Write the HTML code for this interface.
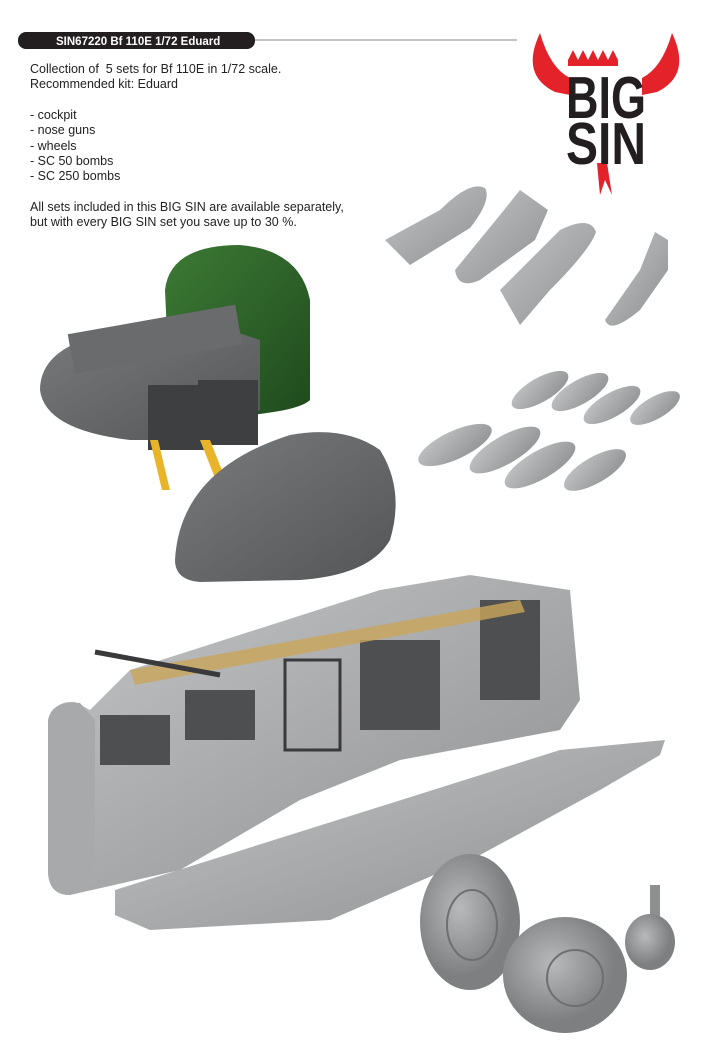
<!DOCTYPE html>
<html><head><meta charset="utf-8"><style>
body{margin:0;width:701px;height:1053px;background:#fff;position:relative;overflow:hidden;font-family:"Liberation Sans Narrow","Liberation Sans",sans-serif;}
.t{position:absolute;left:30px;font-size:12.5px;color:#222;line-height:15.3px;}
</style></head><body>
<svg width="701" height="1053" style="position:absolute;left:0;top:0">
<defs>
<linearGradient id="g1" x1="0" y1="0" x2="1" y2="1"><stop offset="0" stop-color="#c4c5c7"/><stop offset="1" stop-color="#8e8f91"/></linearGradient>
<linearGradient id="g2" x1="0" y1="0" x2="1" y2="1"><stop offset="0" stop-color="#7a7b7d"/><stop offset="1" stop-color="#545557"/></linearGradient>
<linearGradient id="gr" x1="0" y1="0" x2="1" y2="1"><stop offset="0" stop-color="#3d7a35"/><stop offset="1" stop-color="#1f4a1d"/></linearGradient>
<radialGradient id="wh" cx="0.4" cy="0.4"><stop offset="0" stop-color="#b8b9bb"/><stop offset="1" stop-color="#7e7f81"/></radialGradient>
</defs>
<rect x="18" y="32" width="237" height="17" rx="8" fill="#231f20"/>
<text x="56" y="45" font-family="Liberation Sans Narrow,Liberation Sans,sans-serif" font-size="11.5" font-weight="bold" fill="#fff">SIN67220  Bf 110E  1/72  Eduard</text>
<line x1="255" y1="40" x2="517" y2="40" stroke="#888" stroke-width="1"/>
<!-- logo -->
<path d="M540 33 Q520 75 555 92 L570 95 L570 78 Q550 68 540 33Z" fill="#e3222a"/>
<path d="M672 33 Q692 75 657 92 L642 95 L642 78 Q662 68 672 33Z" fill="#e3222a"/>
<path d="M568 60 L573 50 L578 60 L583 50 L588 60 L593 50 L598 60 L603 50 L608 60 L613 50 L618 60 L618 66 L568 66Z" fill="#e3222a"/>
<path d="M597 163 L607 163 L612 195 L605 180 L600 195Z" fill="#e3222a"/>
<g transform="translate(566,118) scale(1,1.15)"><text x="0" y="0" font-family="Liberation Sans Narrow,sans-serif" font-weight="bold" font-size="52" fill="#231f20" textLength="80" lengthAdjust="spacingAndGlyphs">BIG</text></g>
<g transform="translate(566,164) scale(1,1.15)"><text x="0" y="0" font-family="Liberation Sans Narrow,sans-serif" font-weight="bold" font-size="52" fill="#231f20" textLength="80" lengthAdjust="spacingAndGlyphs">SIN</text></g>
<!-- big bombs -->
<g fill="url(#g1)">
<path d="M385 240 L440 210 Q470 180 485 188 Q492 200 470 228 L410 265Z"/>
<path d="M455 270 L500 215 L520 190 L548 210 L535 240 L480 280 Q458 290 455 270Z"/>
<path d="M500 290 L560 230 Q590 215 596 232 Q590 250 550 290 L520 325Z"/>
<path d="M605 320 L640 270 L655 232 L668 240 L668 270 L640 310 Q610 335 605 320Z"/>
</g>
<!-- small bombs cluster -->
<g fill="url(#g1)">
<ellipse cx="540" cy="390" rx="32" ry="12" transform="rotate(-30 540 390)"/>
<ellipse cx="580" cy="392" rx="32" ry="12" transform="rotate(-30 580 392)"/>
<ellipse cx="612" cy="405" rx="32" ry="12" transform="rotate(-30 612 405)"/>
<ellipse cx="655" cy="408" rx="28" ry="11" transform="rotate(-30 655 408)"/>
<ellipse cx="455" cy="445" rx="40" ry="14" transform="rotate(-25 455 445)"/>
<ellipse cx="505" cy="450" rx="40" ry="14" transform="rotate(-30 505 450)"/>
<ellipse cx="540" cy="465" rx="40" ry="14" transform="rotate(-30 540 465)"/>
<ellipse cx="595" cy="470" rx="35" ry="13" transform="rotate(-30 595 470)"/>
</g>
<!-- nose gun section -->
<path d="M165 290 Q170 245 240 245 Q300 250 310 300 L310 400 Q300 410 250 415 L170 400Z" fill="url(#gr)"/>
<path d="M40 390 Q40 350 100 335 L200 320 L260 340 L260 410 L215 440 L130 440 Q45 430 40 390Z" fill="url(#g2)"/>
<rect x="70" y="320" width="170" height="40" fill="#6a6b6d" transform="rotate(-10 150 340)"/>
<rect x="148" y="385" width="58" height="65" fill="#3e3f41"/>
<rect x="198" y="380" width="60" height="65" fill="#3e3f41"/>
<path d="M150 440 L158 440 L170 490 L162 490Z M200 440 L210 440 L225 478 L215 478Z" fill="#e8b52a"/>
<!-- nose cone -->
<path d="M175 560 Q180 470 290 435 Q345 425 380 450 Q405 490 390 540 Q370 575 300 580 L200 582 Q175 580 175 560Z" fill="url(#g2)"/>
<!-- floor -->
<path d="M115 890 L560 750 L665 740 L660 755 L600 790 L480 855 L330 920 L150 930 L115 915Z" fill="url(#g1)"/>
<!-- cockpit -->
<path d="M48 720 Q55 700 75 702 L90 710 L130 670 L380 590 L470 575 L570 590 L580 700 L560 730 L400 760 L300 800 L180 870 L70 895 Q48 895 48 870Z" fill="url(#g1)"/>
<path d="M48 720 Q52 700 80 703 L95 720 L95 880 L70 895 Q48 895 48 870Z" fill="#a8a9ab"/>
<g fill="#4e4f51"><rect x="100" y="715" width="70" height="50"/><rect x="360" y="640" width="80" height="90"/><rect x="285" y="660" width="55" height="90" fill="none" stroke="#3a3a3c" stroke-width="3"/><rect x="480" y="600" width="60" height="100"/><rect x="185" y="690" width="70" height="50"/></g>
<path d="M130 670 L520 600 L525 612 L135 685Z" fill="#c9a55a" opacity="0.8"/>
<line x1="95" y1="652" x2="220" y2="675" stroke="#3a3a3c" stroke-width="5"/>
<!-- wheels -->
<ellipse cx="470" cy="922" rx="50" ry="68" fill="url(#wh)"/>
<ellipse cx="472" cy="925" rx="25" ry="35" fill="none" stroke="#6e6f71" stroke-width="2"/>
<ellipse cx="565" cy="975" rx="62" ry="58" fill="url(#wh)"/>
<ellipse cx="575" cy="978" rx="28" ry="28" fill="none" stroke="#6e6f71" stroke-width="2"/>
<rect x="650" y="885" width="10" height="45" fill="#8e8f91"/>
<ellipse cx="650" cy="942" rx="25" ry="28" fill="url(#wh)"/>
</svg>
<div class="t" style="top:62px">Collection of&nbsp; 5 sets for Bf 110E in 1/72 scale.<br>Recommended kit: Eduard</div>
<div class="t" style="top:108px">- cockpit<br>- nose guns<br>- wheels<br>- SC 50 bombs<br>- SC 250 bombs</div>
<div class="t" style="top:200px">All sets included in this BIG SIN are available separately,<br>but with every BIG SIN set you save up to 30 %.</div>
</body></html>
